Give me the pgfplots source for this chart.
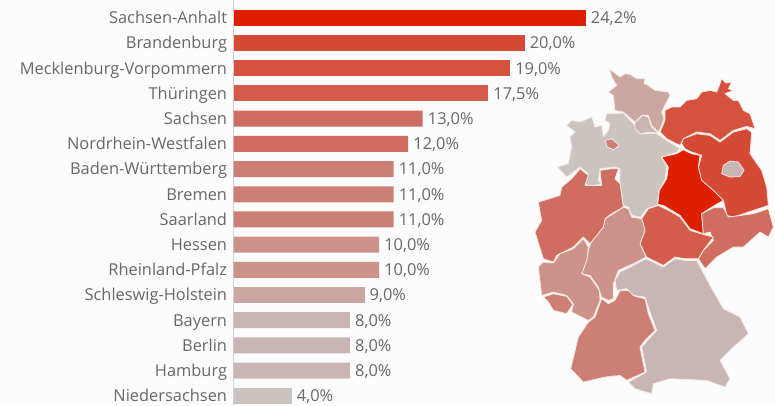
\documentclass[border=0pt]{standalone}
\usepackage{pgfplots}
\pgfplotsset{compat=1.18}
\usepackage{fontspec}
\setmainfont{Open Sans}
\definecolor{bg}{HTML}{FCFCFC}
\definecolor{txt}{HTML}{686868}
\definecolor{cA}{HTML}{DD2000}
\definecolor{cB}{HTML}{D44A35}
\definecolor{cC}{HTML}{D5523F}
\definecolor{cD}{HTML}{D35C4A}
\definecolor{cE}{HTML}{CF6E60}
\definecolor{cF}{HTML}{CE7F75}
\definecolor{cG}{HTML}{CD9289}
\definecolor{cH}{HTML}{CCA7A2}
\definecolor{cI}{HTML}{C9B5B3}
\definecolor{cJ}{HTML}{CAC3BF}
\definecolor{edge}{HTML}{F8E8E2}
\pgfplotsset{reg/.style={fill=#1,draw=edge,line width=0.8pt,line join=round}}
\begin{document}
\begin{tikzpicture}[x=1pt,y=1pt]
\fill[bg] (0,0) rectangle (775,405);
% map, traced in crop coordinates
\begin{axis}[at={(0,0)},anchor=south west,width=775pt,height=405pt,scale only axis,hide axis,
  xmin=-1560,xmax=765,ymin=-150,ymax=1065,y dir=reverse,clip=false]
\addplot[reg=cH] coordinates {(268,55)(300,80)(315,70)(330,72)(350,85)(375,85)(372,100)(385,105)(405,120)(445,125)(450,135)(435,165)(425,185)(432,205)(425,225)(415,245)(395,225)(385,195)(365,195)(345,215)(310,185)(285,180)(280,135)(265,125)(290,105)(275,80)} --cycle;
\addplot[reg=cJ] coordinates {(260,190)(310,188)(345,225)(360,250)(410,250)(440,270)(480,295)(470,305)(425,320)(440,350)(435,385)(415,425)(412,465)(380,475)(362,500)(335,495)(325,470)(310,465)(300,400)(300,355)(285,350)(240,355)(235,390)(245,400)(205,410)(195,395)(205,370)(180,350)(140,380)(112,350)(145,340)(155,290)(150,260)(165,245)(140,225)(155,210)(180,215)(215,200)(225,230)(245,225)(250,260)(265,240)(270,220)(255,210)} --cycle;
\addplot[reg=cI] coordinates {(345,215)(368,195)(385,200)(395,230)(415,248)(385,245)(360,250)(345,235)} --cycle;
\addplot[reg=cF] coordinates {(255,270)(275,265)(298,285)(280,298)(262,290)} --cycle;
\addplot[reg=cC] coordinates {(545,125)(570,120)(590,125)(598,105)(605,85)(618,98)(635,95)(625,115)(640,120)(615,130)(640,150)(655,150)(670,180)(690,190)(705,235)(680,228)(640,240)(600,270)(570,250)(530,245)(490,265)(480,285)(440,265)(420,245)(435,210)(435,180)(455,170)(480,170)(500,150)(530,145)} --cycle;
\addplot[reg=cB] coordinates {(490,265)(530,250)(570,255)(600,275)(640,245)(680,235)(695,245)(690,310)(725,360)(740,410)(745,465)(700,480)(640,500)(620,495)(615,470)(610,450)(575,420)(545,395)(535,350)(545,315)(515,305)(495,295)(485,280)} --cycle;
\addplot[reg=cI] coordinates {(610,345)(630,332)(655,335)(672,360)(660,378)(630,380)(605,370)} --cycle;
\addplot[reg=cA] coordinates {(490,298)(515,310)(540,315)(535,350)(545,390)(580,420)(610,450)(575,470)(545,490)(550,550)(510,535)(480,495)(455,480)(430,465)(413,462)(418,420)(440,385)(445,350)(425,320)(470,310)} --cycle;
\addplot[reg=cE] coordinates {(545,490)(580,472)(610,472)(625,500)(700,490)(745,475)(760,530)(745,560)(720,545)(670,590)(640,590)(590,620)(555,655)(535,625)(550,600)(580,570)(570,545)(550,550)} --cycle;
\addplot[reg=cD] coordinates {(385,475)(415,465)(455,485)(480,500)(510,540)(550,552)(580,560)(550,600)(535,625)(495,625)(465,620)(430,645)(380,620)(360,580)(375,540)(365,505)} --cycle;
\addplot[reg=cG] coordinates {(310,470)(325,475)(335,500)(365,505)(375,540)(360,580)(378,620)(340,640)(295,660)(280,700)(280,745)(265,750)(245,740)(235,710)(210,675)(185,670)(200,630)(205,600)(215,570)(250,530)(255,505)(280,490)} --cycle;
\addplot[reg=cE] coordinates {(180,355)(205,375)(195,405)(245,405)(240,360)(275,355)(295,355)(285,385)(300,400)(310,470)(275,490)(255,505)(250,530)(210,580)(190,560)(160,590)(110,615)(100,635)(70,625)(45,545)(65,510)(55,455)(120,435)(125,410)(155,385)} --cycle;
\addplot[reg=cG] coordinates {(190,565)(205,590)(200,630)(185,670)(210,680)(238,720)(240,750)(220,800)(205,810)(155,785)(160,760)(140,735)(100,725)(65,735)(55,650)(70,635)(100,638)(120,610)(160,595)} --cycle;
\addplot[reg=cF] coordinates {(70,740)(100,730)(140,738)(158,762)(140,790)(100,780)(85,755)} --cycle;
\addplot[reg=cF] coordinates {(245,745)(265,760)(285,750)(300,720)(330,720)(345,738)(375,745)(385,790)(405,840)(375,870)(360,890)(375,965)(320,990)(300,975)(255,980)(190,995)(152,955)(175,860)(205,815)(225,800)} --cycle;
\addplot[reg=cI] coordinates {(378,625)(430,650)(465,625)(495,630)(530,630)(570,705)(610,775)(660,800)(685,850)(640,890)(600,930)(630,985)(615,1010)(560,990)(450,985)(400,1000)(395,1030)(345,1015)(325,995)(380,965)(365,890)(410,840)(385,770)(375,740)(340,735)(320,715)(290,720)(285,690)(300,665)(340,645)} --cycle;
\end{axis}
% bars
\begin{axis}[at={(233.5pt,0pt)},anchor=south west,width=541.5pt,height=405pt,scale only axis,
  xmin=0,xmax=37.2,ymin=-0.695,ymax=15.38,y dir=reverse,
  axis x line=none,axis y line=left,y axis line style={draw=black!18,-,line width=0.8pt},
  xbar,bar width=16pt,bar shift=0pt,
  ytick={0,...,15},tick style={draw=none},
  yticklabels={Sachsen-Anhalt,Brandenburg,Mecklenburg-Vorpommern,Thüringen,Sachsen,Nordrhein-Westfalen,Baden-Württemberg,Bremen,Saarland,Hessen,Rheinland-Pfalz,Schleswig-Holstein,Bayern,Berlin,Hamburg,Niedersachsen},
  yticklabel style={font=\fontsize{16.4}{18}\selectfont,text=txt,inner sep=0pt,xshift=-2pt,text height=11.7pt,text depth=0pt},
  nodes near coords={\pgfmathprintnumber[use comma,fixed,fixed zerofill,precision=1,assume math mode=true]{\pgfplotspointmeta}\%},
  point meta=x,
  nodes near coords style={font=\fontsize{16.4}{18}\selectfont,text=txt,inner sep=0pt,xshift=5pt,anchor=west,text height=11.7pt,text depth=0pt},
  every axis plot/.append style={draw=none},clip=false]
\addplot[fill=cA] coordinates {(24.2,0)};
\addplot[fill=cB] coordinates {(20,1)};
\addplot[fill=cC] coordinates {(19,2)};
\addplot[fill=cD] coordinates {(17.5,3)};
\addplot[fill=cE] coordinates {(13,4)(12,5)};
\addplot[fill=cF] coordinates {(11,6)(11,7)(11,8)};
\addplot[fill=cG] coordinates {(10,9)(10,10)};
\addplot[fill=cH] coordinates {(9,11)};
\addplot[fill=cI] coordinates {(8,12)(8,13)(8,14)};
\addplot[fill=cJ] coordinates {(4,15)};
\end{axis}
\end{tikzpicture}
\end{document}
